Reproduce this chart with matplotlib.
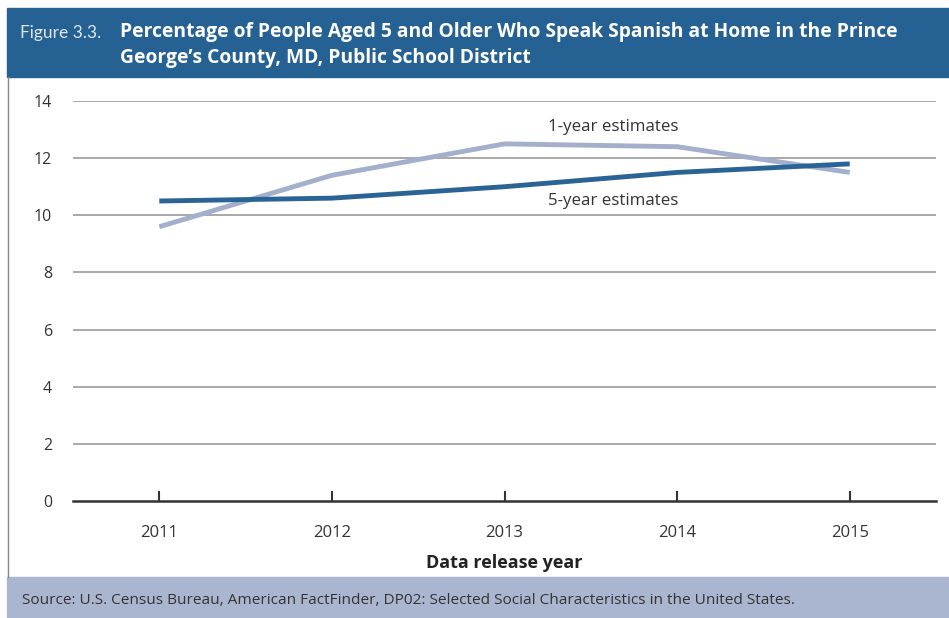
import numpy as np
import matplotlib.pyplot as plt
from matplotlib.patches import Rectangle
from matplotlib.lines import Line2D

years = [2011, 2012, 2013, 2014, 2015]
one_year = [9.6, 11.4, 12.5, 12.4, 11.5]
five_year = [10.5, 10.6, 11.0, 11.5, 11.8]
yticks = [0, 2, 4, 6, 8, 10, 12, 14]

W, H = 949, 618
fig = plt.figure(figsize=(W / 100, H / 100), dpi=100)
plt.rcParams['font.family'] = ['Open Sans', 'DejaVu Sans']

def px(x0, y0, x1, y1):
    # pixel box (top-left origin) -> figure fraction [l, b, w, h]
    return [x0 / W, 1 - y1 / H, (x1 - x0) / W, (y1 - y0) / H]

# header band
fig.patches.append(Rectangle((7 / W, 1 - 77 / H), 1, 69 / H, transform=fig.transFigure,
                             color='#266193', zorder=0))
fig.text(20 / W, 1 - 33 / H, 'Figure 3.3.', color='#dfe7f0', fontsize=12.5,
         va='center', ha='left', family=['Lato', 'DejaVu Sans'])
fig.text(120 / W, 1 - 32 / H,
         'Percentage of People Aged 5 and Older Who Speak Spanish at Home in the Prince',
         color='white', fontsize=13.9, fontweight='bold', va='center', ha='left')
fig.text(120 / W, 1 - 58 / H, 'George\u2019s County, MD, Public School District',
         color='white', fontsize=13.9, fontweight='bold', va='center', ha='left')

# footer band
fig.patches.append(Rectangle((7 / W, 0), 1, (H - 577) / H, transform=fig.transFigure,
                             color='#aab6d0', zorder=0))
fig.text(22 / W, 1 - 600 / H,
         'Source: U.S. Census Bureau, American FactFinder, DP02: Selected Social Characteristics in the United States.',
         color='#333333', fontsize=11.1, va='center', ha='left')

# left border of white box
fig.lines.append(Line2D([8 / W, 8 / W], [1 - 577 / H, 1 - 77 / H], transform=fig.transFigure,
                        color='#888888', linewidth=1))

ax = fig.add_axes(px(73, 101, 936, 501))
ax.set_xlim(2010.5, 2015.5)
ax.set_ylim(0, 14)
ax.set_yticks(yticks)
ax.set_xticks(years)
ax.set_xticklabels([str(y) for y in years])

for y in yticks[1:]:
    ax.axhline(y, color='#999999', linewidth=1.2, zorder=1)

ax.plot(years, one_year, color='#a4afcc', linewidth=3.5, solid_capstyle='butt', zorder=3)
ax.plot(years, five_year, color='#2a6496', linewidth=3.5, solid_capstyle='butt', zorder=4)

ax.text(2013.63, 13.1, '1-year estimates', fontsize=12.2, color='#333333',
        ha='center', va='center')
ax.text(2013.63, 10.5, '5-year estimates', fontsize=12.2, color='#333333',
        ha='center', va='center')

for s in ['top', 'right', 'left']:
    ax.spines[s].set_visible(False)
ax.spines['bottom'].set_color('#333333')
ax.spines['bottom'].set_linewidth(1.8)
ax.tick_params(axis='y', length=0, pad=15, labelsize=11.5, labelcolor='#333333')
ax.tick_params(axis='x', direction='in', length=7, width=1.5, color='#333333',
               pad=17, labelsize=12, labelcolor='#333333')
ax.set_xlabel('Data release year', fontsize=13, fontweight='bold', color='#222222',
              labelpad=10)
ax.set_facecolor('none')

fig.savefig('out.png', dpi=100)
